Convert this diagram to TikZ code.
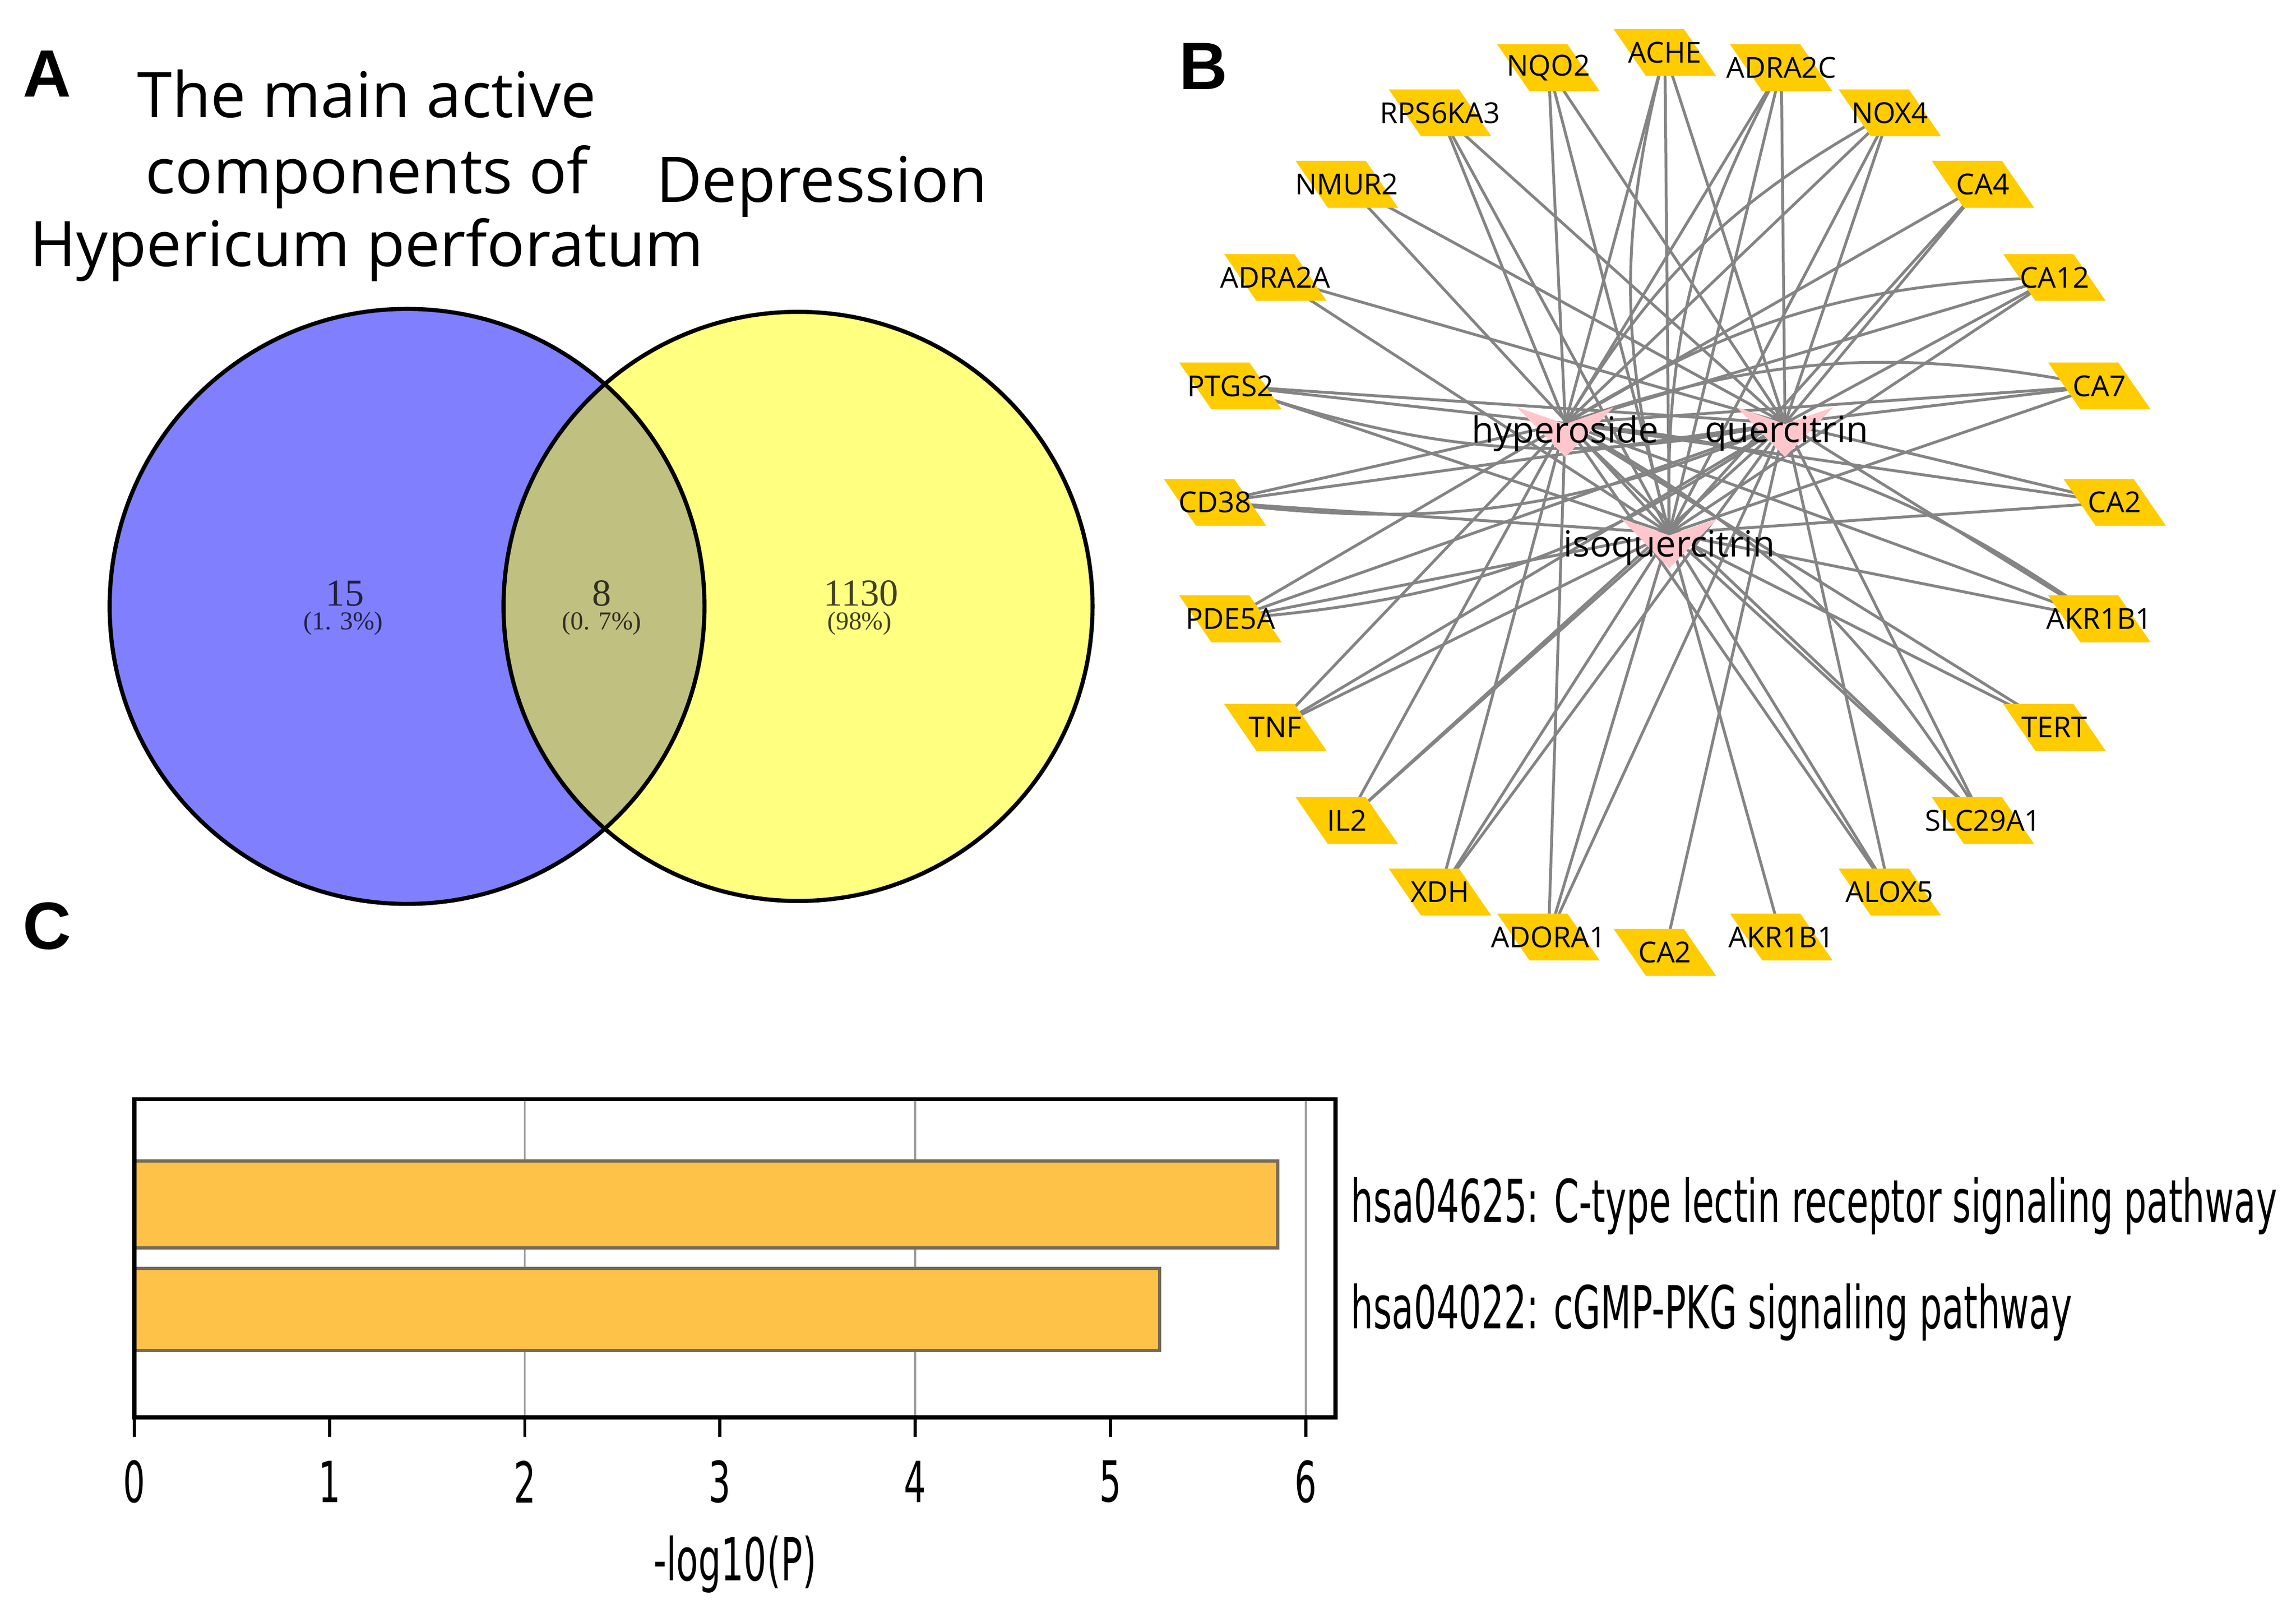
\documentclass[tikz,border=0pt]{standalone}
\usepackage{fontspec}
\usepackage{graphicx}
\setmainfont{Open Sans}
\newfontfamily\serifnum{Liberation Serif}
\newfontfamily\labfont{Liberation Sans}
\newfontfamily\plotfont{DejaVu Sans}
\usetikzlibrary{calc}
\pgfdeclarelayer{bglayer}
\pgfdeclarelayer{edgelayer}
\pgfdeclarelayer{shapelayer}
\pgfsetlayers{bglayer,edgelayer,shapelayer,main}
\definecolor{vennblue}{RGB}{128,128,255}
\definecolor{vennyellow}{RGB}{255,255,128}
\definecolor{vennmix}{RGB}{192,192,128}
\definecolor{tgtyellow}{RGB}{255,204,0}
\definecolor{hubpink}{RGB}{255,198,204}
\definecolor{edgegray}{RGB}{132,132,132}
\definecolor{barfill}{RGB}{255,194,72}
\definecolor{baredge}{RGB}{120,108,88}
\definecolor{gridgray}{RGB}{160,160,160}
\begin{document}
\begin{tikzpicture}[x=0.01cm,y=-0.01cm,
  panel/.style={font=\labfont\bfseries\fontsize{13}{13}\selectfont, anchor=base west, inner sep=0},
  title/.style={font=\fontsize{12.2}{14}\selectfont, anchor=base, inner sep=0},
  vnum/.style={font=\serifnum\fontsize{7.4}{8}\selectfont, text=black, text opacity=0.75, inner sep=0},
  vpct/.style={font=\serifnum\fontsize{5}{6}\selectfont, text=black, text opacity=0.75, inner sep=0},
  tgt/.style={font=\fontsize{5.6}{6}\selectfont, inner sep=0},
  hub/.style={font=\fontsize{7}{8}\selectfont, inner sep=0},
  edge/.style={draw=edgegray, line width=0.55pt},
  vennline/.style={draw=black, line width=0.8pt},
  barbox/.style={fill=barfill, draw=baredge, line width=0.6pt},
  gridline/.style={draw=gridgray, line width=0.4pt},
  plotlab/.style={font=\plotfont\fontsize{11.5}{12}\selectfont, inner sep=0},
  ticklab/.style={font=\plotfont\fontsize{11}{12}\selectfont, inner sep=0}
]
\useasboundingbox (0,0) rectangle (1568,1098.5);
\begin{pgfonlayer}{bglayer}
  \fill[white] (0,0) rectangle (1568,1098.5);
\end{pgfonlayer}

% ---------------- Panel A ----------------
\node[panel] (pA) at (14.8,66) {A};
\node[title] (t1) at (250.5,80) {The main active};
\node[title] (t2) at (250.5,132) {components of};
\node[title] (t3) at (250.5,182) {Hypericum perforatum};
\node[title] (t4) at (561.3,138) {Depression};

\fill[vennblue] (278,414) circle (2.03cm);
\fill[vennyellow] (545,414) circle (2.01cm);
\begin{scope}
  \clip (278,414) circle (2.03cm);
  \fill[vennmix] (545,414) circle (2.01cm);
\end{scope}
\draw[vennline] (278,414) circle (2.03cm);
\draw[vennline] (545,414) circle (2.01cm);

\node[vnum] (v1) at (235.5,405) {15};
\node[vpct] (p1) at (234.5,425.5) {(1. 3\%)};
\node[vnum] (v2) at (411,405) {8};
\node[vpct] (p2) at (411,425.5) {(0. 7\%)};
\node[vnum] (v3) at (588,405) {1130};
\node[vpct] (p3) at (587,425.5) {(98\%)};

% ---------------- Panel B ----------------
\node[panel] (pB) at (804.7,61) {B};

\foreach \i/\lab in {0/ACHE,1/ADRA2C,2/NOX4,3/CA4,4/CA12,5/CA7,6/CA2,7/AKR1B1,
  8/TERT,9/SLC29A1,10/ALOX5,11/AKR1B1,12/CA2,13/ADORA1,14/XDH,15/IL2,16/TNF,
  17/PDE5A,18/CD38,19/PTGS2,20/ADRA2A,21/NMUR2,22/RPS6KA3,23/NQO2}
  \node[tgt] (n\i) at ($(1137,343)+({90-15*\i}:3.07cm)$) {\lab};

\node[hub] (hyp) at (1069,296) {hyperoside};
\node[hub] (que) at (1220,296) {quercitrin};
\node[hub] (iso) at (1140,374) {isoquercitrin};
\coordinate (hypE) at (1069,289);
\coordinate (queE) at (1219,289);
\coordinate (isoE) at (1140,364);

\begin{pgfonlayer}{shapelayer}
  \foreach \i in {0,...,23}
    \fill[tgtyellow] ($(n\i.center)+(-35,-16)$) -- ($(n\i.center)+(13,-16)$)
      -- ($(n\i.center)+(35,16)$) -- ($(n\i.center)+(-13,16)$) -- cycle;
  \foreach \h/\c in {hyp/{1069,295},que/{1219,295},iso/{1140,371}}
    \fill[hubpink] ($(\c)+(-33,-17)$) -- ($(\c)+(0,-5.5)$) -- ($(\c)+(33,-17)$)
      -- ($(\c)+(0,17)$) -- cycle;
\end{pgfonlayer}

\begin{pgfonlayer}{edgelayer}
  % targets linked to all three compounds
  \foreach \i in {0,1,2,3,4,5,6,7,9,10,13,14,15,16,17,18,19,22,23} {
    \draw[edge] (n\i.center) -- (hypE);
    \draw[edge] (n\i.center) -- (queE);
    \draw[edge] (n\i.center) -- (isoE);
  }
  % targets linked to two compounds
  \draw[edge] (n8.center) -- (hypE);
  \draw[edge] (n8.center) -- (isoE);
  \draw[edge] (n20.center) -- (queE);
  \draw[edge] (n20.center) -- (isoE);
  \draw[edge] (n21.center) -- (queE);
  \draw[edge] (n21.center) -- (isoE);
  % targets linked to one compound
  \draw[edge] (n11.center) -- (isoE);
  \draw[edge] (n12.center) -- (queE);
  % curved (parallel) links
  \foreach \i/\h in {0/isoE,1/isoE,2/hypE,4/hypE,5/hypE,7/hypE,9/hypE,17/queE,18/queE,19/queE}
    \draw[edge] (n\i.center) to[bend right=15] (\h);
\end{pgfonlayer}

% ---------------- Panel C ----------------
\node[panel] (pC) at (15,648) {C};

\foreach \k in {2,4,6}
  \draw[gridline] ({91.7+133.33*\k},750.4) -- ({91.7+133.33*\k},967.8);
\draw[barbox] (91.7,792.6) rectangle (872.5,852);
\draw[barbox] (91.7,866) rectangle (792,922);
\draw[line width=0.8pt] (91.7,750.4) rectangle (912,967.8);
\foreach \k in {0,...,6} {
  \draw[line width=0.6pt] ({91.7+133.33*\k},967.8) -- ({91.7+133.33*\k},981);
  \node[ticklab] (tk\k) at ({91.7+133.33*\k},1011.6) {\scalebox{0.61}[1]{\k}};
}
\node[plotlab, anchor=base] (xl) at (502,1079) {\resizebox{1.11cm}{\height}{-log10(P)}};
\node[plotlab, anchor=base west] (l1) at (922,834.5) {\resizebox{6.32cm}{\height}{hsa04625: C-type lectin receptor signaling pathway}};
\node[plotlab, anchor=base west] (l2) at (922,907) {\resizebox{4.92cm}{\height}{hsa04022: cGMP-PKG signaling pathway}};
\end{tikzpicture}
\end{document}
